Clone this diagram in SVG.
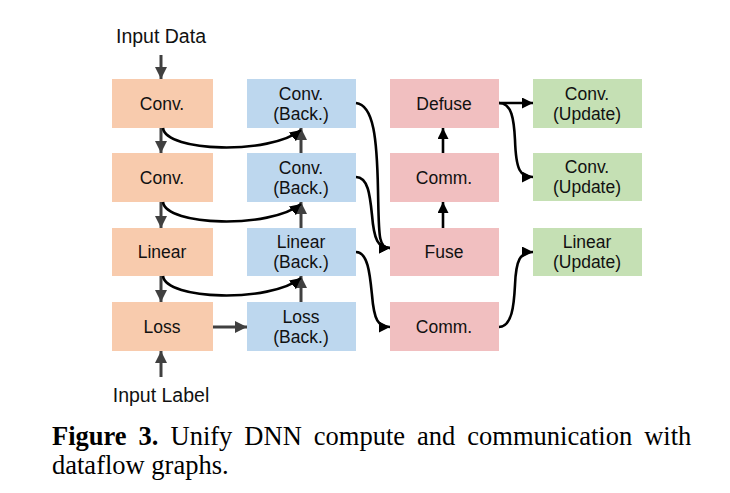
<svg xmlns="http://www.w3.org/2000/svg" width="730" height="493" viewBox="0 0 730 493">
<style>
.lbl{font-family:"Liberation Sans",Arial,sans-serif;font-size:17.5px;fill:#111;text-anchor:middle}
.inp{font-family:"Liberation Sans",Arial,sans-serif;font-size:19.5px;fill:#111;text-anchor:middle}
.fw{fill:#F8CBAD}.bw{fill:#BDD7EE}.pk{fill:#F1BFC0}.gr{fill:#C5E0B4}
.ga{stroke:#404040;stroke-width:3;fill:none;marker-end:url(#ag)}
.ba{stroke:#000;stroke-width:2.6;fill:none;marker-end:url(#ab)}
.cap{font-family:"Liberation Serif","Times New Roman",serif;font-size:26.5px;fill:#000}
</style>
<defs>
<marker id="ag" markerUnits="userSpaceOnUse" markerWidth="12" markerHeight="12" refX="10" refY="5" orient="auto" viewBox="0 0 10 10"><path d="M0,0 L10,5 L0,10 z" fill="#404040"/></marker>
<marker id="ab" markerUnits="userSpaceOnUse" markerWidth="11" markerHeight="11" refX="10" refY="5" orient="auto" viewBox="0 0 10 10"><path d="M0,0 L10,5 L0,10 z" fill="#000"/></marker>
</defs>
<rect width="730" height="493" fill="#fff"/>
<text class="inp" x="161" y="43">Input Data</text>
<text class="inp" x="161" y="402">Input Label</text>

<g id="conv1"><rect class="fw" x="112" y="79" width="101" height="49"/><text class="lbl" x="162" y="110">Conv.</text></g>
<g id="conv2"><rect class="fw" x="112" y="153" width="101" height="49"/><text class="lbl" x="162" y="184">Conv.</text></g>
<g id="linear"><rect class="fw" x="112" y="228" width="101" height="48"/><text class="lbl" x="162" y="258">Linear</text></g>
<g id="loss"><rect class="fw" x="112" y="302" width="101" height="49"/><text class="lbl" x="162" y="333">Loss</text></g>

<g id="convback1"><rect class="bw" x="247" y="79" width="109" height="49"/><text class="lbl" x="301" y="100">Conv.</text><text class="lbl" x="301" y="120">(Back.)</text></g>
<g id="convback2"><rect class="bw" x="247" y="153" width="109" height="49"/><text class="lbl" x="301" y="174">Conv.</text><text class="lbl" x="301" y="194">(Back.)</text></g>
<g id="linearback"><rect class="bw" x="247" y="228" width="109" height="48"/><text class="lbl" x="301" y="248">Linear</text><text class="lbl" x="301" y="268">(Back.)</text></g>
<g id="lossback"><rect class="bw" x="247" y="302" width="109" height="49"/><text class="lbl" x="301" y="323">Loss</text><text class="lbl" x="301" y="343">(Back.)</text></g>

<g id="defuse"><rect class="pk" x="390" y="79" width="109" height="49"/><text class="lbl" x="444" y="110">Defuse</text></g>
<g id="comm1"><rect class="pk" x="390" y="153" width="109" height="49"/><text class="lbl" x="444" y="184">Comm.</text></g>
<g id="fuse"><rect class="pk" x="390" y="228" width="109" height="48"/><text class="lbl" x="444" y="258">Fuse</text></g>
<g id="comm2"><rect class="pk" x="390" y="302" width="109" height="49"/><text class="lbl" x="444" y="333">Comm.</text></g>

<g id="convupd1"><rect class="gr" x="533" y="79" width="109" height="49"/><text class="lbl" x="587" y="100">Conv.</text><text class="lbl" x="587" y="120">(Update)</text></g>
<g id="convupd2"><rect class="gr" x="533" y="153" width="109" height="48"/><text class="lbl" x="587" y="173">Conv.</text><text class="lbl" x="587" y="193">(Update)</text></g>
<g id="linearupd"><rect class="gr" x="533" y="228" width="109" height="48"/><text class="lbl" x="587" y="248">Linear</text><text class="lbl" x="587" y="268">(Update)</text></g>

<g id="connectors">
<path class="ga" d="M161,55 V79"/>
<path class="ga" d="M161,128 V153"/>
<path class="ga" d="M161,202 V228"/>
<path class="ga" d="M161,276 V302"/>
<path class="ga" d="M161,377 V351"/>
<path class="ga" d="M301,153 V128"/>
<path class="ga" d="M301,228 V202"/>
<path class="ga" d="M301,302 V276"/>
<path class="ga" d="M213,327 H247"/>
<path class="ba" d="M163,128 C166,152 270,155 301,130"/>
<path class="ba" d="M163,202 C166,226 270,229 301,204"/>
<path class="ba" d="M163,276 C166,300 270,303 301,278"/>
<path class="ba" d="M356,103 C374,105 377,140 378,190 C379,236 378,248 390,248"/>
<path class="ba" d="M356,177 C368,177 370,195 372,215 C374,240 378,248 390,248"/>
<path class="ba" d="M356,252 C368,252 370,275 372,295 C374,320 378,327 390,327"/>
<path class="ba" d="M443,228 V202"/>
<path class="ba" d="M443,153 V128"/>
<path class="ba" d="M499,103 H533"/>
<path class="ba" d="M499,103 C512,103 514,120 515,140 C516,170 520,177 533,177"/>
<path class="ba" d="M499,327 C512,327 514,305 515,285 C516,260 520,252 533,252"/>
</g>

<text class="cap" x="52" y="445" word-spacing="5.4"><tspan font-weight="bold">Figure 3.</tspan> Unify DNN compute and communication with</text>
<text class="cap" x="52" y="474">dataflow graphs.</text>
</svg>
